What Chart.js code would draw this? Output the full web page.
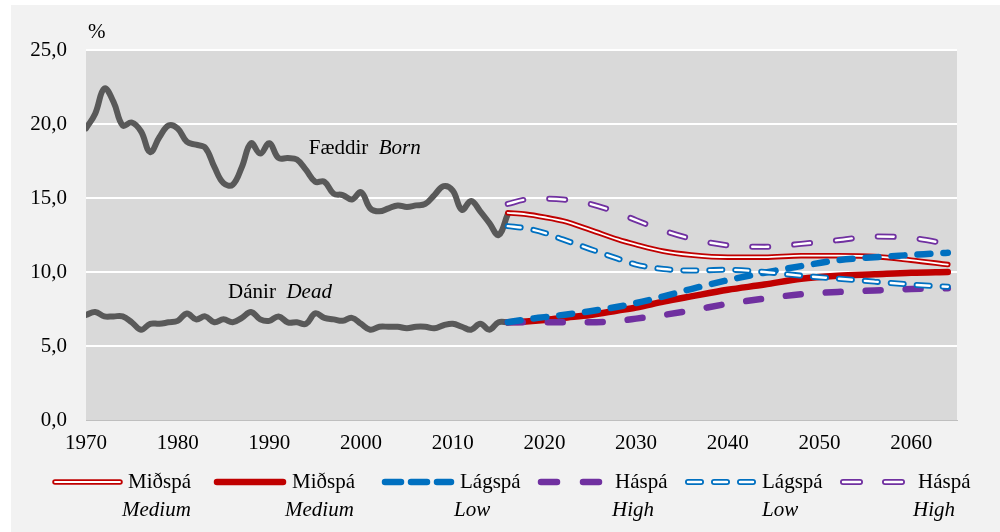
<!DOCTYPE html>
<html>
<head>
<meta charset="utf-8">
<script src="https://cdn.jsdelivr.net/npm/chart.js@4/dist/chart.umd.min.js"></script>
<style>
  body { margin: 0; background: #fff; font-family: "Liberation Serif", "DejaVu Serif", serif; }
  #panel { position: absolute; left: 11px; top: 5px; width: 989px; height: 527px; background: #f2f2f2; }
  #wrap { position: absolute; left: 0; top: 0; width: 1000px; height: 532px; }
  .txt { position: absolute; font-size: 21px; color: #000; white-space: pre; line-height: 21px; }
  .it { font-style: italic; }
  svg.sw { position: absolute; }
</style>
</head>
<body>
<div id="panel"></div>
<div id="wrap"><canvas id="chart" width="1000" height="532"></canvas></div>

<div class="txt" style="left:88px;top:21px;">%</div>
<div class="txt" id="bornLabel">Fæddir  <span class="it">Born</span></div>
<div class="txt" id="deadLabel">Dánir  <span class="it">Dead</span></div>

<!-- legend -->
<svg class="sw" style="left:0;top:470px" width="1000" height="24">
  <line x1="55" y1="12" x2="120" y2="12" stroke="#c00000" stroke-width="5.5" stroke-linecap="round"/>
  <line x1="55" y1="12" x2="120" y2="12" stroke="#fff" stroke-width="1.8" stroke-linecap="round"/>
  <line x1="217" y1="12" x2="283" y2="12" stroke="#c00000" stroke-width="6.5" stroke-linecap="round"/>
  <line x1="385" y1="12" x2="451" y2="12" stroke="#0070c0" stroke-width="6.5" stroke-linecap="round" stroke-dasharray="16 10"/>
  <line x1="541" y1="12" x2="599" y2="12" stroke="#7030a0" stroke-width="6.5" stroke-linecap="round" stroke-dasharray="16 26"/>
  <line x1="688" y1="12" x2="754" y2="12" stroke="#0070c0" stroke-width="6" stroke-linecap="round" stroke-dasharray="13 13"/>
  <line x1="688" y1="12" x2="754" y2="12" stroke="#fff" stroke-width="2.4" stroke-linecap="round" stroke-dasharray="13 13"/>
  <line x1="843" y1="12" x2="902" y2="12" stroke="#7030a0" stroke-width="6" stroke-linecap="round" stroke-dasharray="17 25"/>
  <line x1="843" y1="12" x2="902" y2="12" stroke="#fff" stroke-width="2.4" stroke-linecap="round" stroke-dasharray="17 25"/>
</svg>
<div class="txt" style="left:128px;top:471px;">Miðspá</div>
<div class="txt it" style="left:122px;top:499px;">Medium</div>
<div class="txt" style="left:292px;top:471px;">Miðspá</div>
<div class="txt it" style="left:285px;top:499px;">Medium</div>
<div class="txt" style="left:460px;top:471px;">Lágspá</div>
<div class="txt it" style="left:454px;top:499px;">Low</div>
<div class="txt" style="left:615px;top:471px;">Háspá</div>
<div class="txt it" style="left:612px;top:499px;">High</div>
<div class="txt" style="left:762px;top:471px;">Lágspá</div>
<div class="txt it" style="left:762px;top:499px;">Low</div>
<div class="txt" style="left:918px;top:471px;">Háspá</div>
<div class="txt it" style="left:913px;top:499px;">High</div>

<script>
// Historical data, 1970-2016
const histYears = [];
for (let y = 1970; y <= 2016; y++) histYears.push(y);

const born = [19.7, 20.7, 22.4, 21.5, 19.9, 20.1, 19.5, 18.1, 19.1, 19.9,
  19.7, 18.8, 18.6, 18.4, 17.1, 16.0, 15.9, 17.1, 18.7, 18.0,
  18.7, 17.7, 17.7, 17.6, 16.9, 16.1, 16.1, 15.3, 15.2, 14.9,
  15.4, 14.3, 14.1, 14.3, 14.5, 14.4, 14.5, 14.6, 15.2, 15.8,
  15.5, 14.2, 14.8, 14.1, 13.3, 12.5, 13.9];

const dead = [7.1, 7.3, 7.0, 7.0, 7.0, 6.6, 6.1, 6.5, 6.5, 6.6,
  6.7, 7.2, 6.8, 7.0, 6.6, 6.8, 6.6, 6.9, 7.3, 6.8,
  6.7, 7.0, 6.6, 6.6, 6.5, 7.2, 6.9, 6.8, 6.7, 6.9,
  6.5, 6.1, 6.3, 6.3, 6.3, 6.2, 6.3, 6.3, 6.2, 6.4,
  6.5, 6.3, 6.1, 6.5, 6.1, 6.6, 6.6];

// Projections
const projYears = [2016, 2018, 2020, 2022, 2025, 2028, 2030, 2033, 2036, 2040, 2044, 2048, 2052, 2056, 2060, 2064];
const bornMedium = [14.0, 13.9, 13.7, 13.45, 12.85, 12.2, 11.85, 11.4, 11.15, 11.0, 11.0, 11.1, 11.1, 11.05, 10.8, 10.5];
const bornLow    = [13.1, 12.95, 12.65, 12.2, 11.55, 10.9, 10.5, 10.2, 10.1, 10.15, 10.0, 9.75, 9.55, 9.35, 9.15, 9.0];
const bornHigh   = [14.6, 14.9, 14.95, 14.9, 14.6, 14.0, 13.5, 12.8, 12.25, 11.8, 11.7, 11.9, 12.15, 12.4, 12.3, 11.9];
const deadMedium = [6.6, 6.65, 6.75, 6.9, 7.1, 7.4, 7.6, 8.0, 8.35, 8.8, 9.15, 9.55, 9.75, 9.85, 9.95, 10.0];
const deadLow    = [6.6, 6.8, 6.95, 7.1, 7.35, 7.65, 7.9, 8.35, 8.85, 9.45, 9.95, 10.4, 10.8, 11.0, 11.15, 11.3];
const deadHigh   = [6.6, 6.6, 6.6, 6.6, 6.6, 6.7, 6.85, 7.1, 7.4, 7.85, 8.2, 8.5, 8.65, 8.75, 8.85, 8.9];

const xTicks = [1970, 1980, 1990, 2000, 2010, 2020, 2030, 2040, 2050, 2060];

const red = "#c00000";
const blue = "#0070c0";
const purple = "#7030a0";
const gray = "#595959";

function pts(xs, ys) {
  return ys.map((v, i) => ({ x: xs[i], y: v }));
}

function hist(values) {
  return {
    data: pts(histYears, values), borderColor: gray, borderWidth: 6,
    tension: 0.4, order: 20
  };
}

function proj(values, color, width, dash, order) {
  return {
    data: pts(projYears, values), borderColor: color, borderWidth: width,
    borderDash: dash || [], cubicInterpolationMode: "monotone", order: order
  };
}

// Fill the plot area grey
const plotBg = {
  id: "plotBg",
  beforeDraw(chart) {
    const { ctx, chartArea: a } = chart;
    ctx.save();
    ctx.fillStyle = "#d9d9d9";
    ctx.fillRect(a.left, a.top, a.right - a.left, a.bottom - a.top);
    ctx.restore();
  }
};

// Place the series labels with the chart's own scales
const seriesLabels = {
  id: "seriesLabels",
  afterRender(chart) {
    const x = chart.scales.x, y = chart.scales.y;
    const b = document.getElementById("bornLabel");
    b.style.left = x.getPixelForValue(1994.3) + "px";
    b.style.top = (y.getPixelForValue(18.4) - 11) + "px";
    const d = document.getElementById("deadLabel");
    d.style.left = x.getPixelForValue(1985.5) + "px";
    d.style.top = (y.getPixelForValue(8.65) - 11) + "px";
  }
};

const font = { family: "'Liberation Serif', serif", size: 21 };

new Chart(document.getElementById("chart"), {
  type: "line",
  data: {
    datasets: [
      hist(born),
      hist(dead),
      proj(deadMedium, red, 6.5, null, 12),
      proj(bornMedium, red, 5.5, null, 11),
      proj(bornMedium, "#ffffff", 1.8, null, 10),
      proj(deadHigh, purple, 6.5, [15, 25], 9),
      proj(bornHigh, purple, 6, [16, 26], 8),
      proj(bornHigh, "#ffffff", 2.4, [16, 26], 7),
      proj(deadLow, blue, 6.5, [13, 13], 6),
      proj(bornLow, blue, 6, [13, 13], 5),
      proj(bornLow, "#ffffff", 2.4, [13, 13], 4)
    ]
  },
  options: {
    responsive: false,
    animation: false,
    layout: { padding: { top: 50, right: 43, left: 0, bottom: 0 } },
    elements: {
      point: { radius: 0, hoverRadius: 0 },
      line: { borderCapStyle: "round", borderJoinStyle: "round", fill: false }
    },
    plugins: { legend: { display: false }, tooltip: { enabled: false } },
    scales: {
      x: {
        type: "linear", min: 1970, max: 2065,
        afterBuildTicks: (s) => { s.ticks = xTicks.map((v) => ({ value: v })); },
        afterFit: (s) => { s.height = 112; },
        ticks: { font: font, color: "#000", padding: 3, maxRotation: 0, autoSkip: false,
          callback: (v) => String(v) },
        grid: { display: false },
        border: { color: "#bfbfbf", width: 1 }
      },
      y: {
        min: 0, max: 25,
        afterFit: (s) => { s.width = 86; },
        ticks: { stepSize: 5, font: font, color: "#000", padding: 19,
          callback: (v) => v.toFixed(1).replace(".", ",") },
        grid: { color: (c) => (c.tick.value === 0 ? "rgba(0,0,0,0)" : "#ffffff"),
          lineWidth: 2, drawTicks: false },
        border: { display: false }
      }
    }
  },
  plugins: [plotBg, seriesLabels]
});
</script>
</body>
</html>
